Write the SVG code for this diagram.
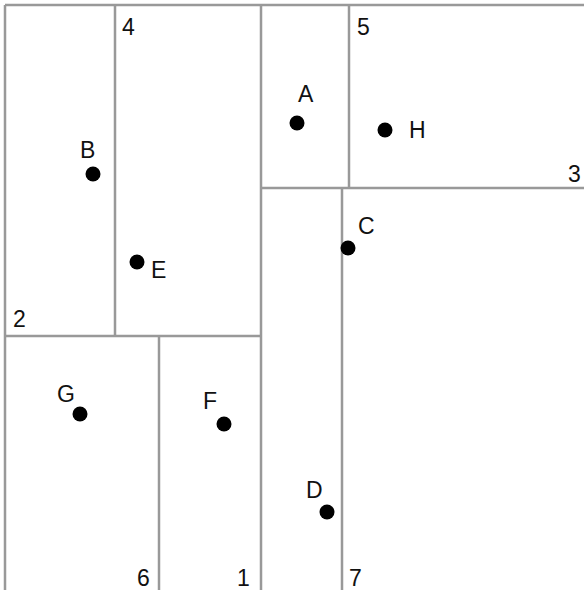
<svg xmlns="http://www.w3.org/2000/svg" width="584" height="590" viewBox="0 0 584 590">
<style>
.ln{stroke:#999;stroke-width:2.5;fill:none}
.pt{fill:#000}
.t{font-family:"Liberation Sans",Arial,sans-serif;font-size:23px;fill:#111}
</style>
<rect width="584" height="590" fill="#fff"/>
<g id="connectors">
<line class="ln" x1="5" y1="5" x2="584" y2="5"/>
<line class="ln" x1="5" y1="5" x2="5" y2="590"/>
<line class="ln" x1="261" y1="5" x2="261" y2="590"/>
<line class="ln" x1="115" y1="5" x2="115" y2="336"/>
<line class="ln" x1="5" y1="336" x2="261" y2="336"/>
<line class="ln" x1="159" y1="336" x2="159" y2="590"/>
<line class="ln" x1="261" y1="188" x2="584" y2="188"/>
<line class="ln" x1="349" y1="5" x2="349" y2="188"/>
<line class="ln" x1="342" y1="188" x2="342" y2="590"/>
</g>
<g id="labels">
<text class="t" x="122" y="35">4</text>
<text class="t" x="357" y="35">5</text>
<text class="t" x="568" y="182">3</text>
<text class="t" x="13" y="327">2</text>
<text class="t" x="137" y="586">6</text>
<text class="t" x="237" y="586">1</text>
<text class="t" x="349" y="586">7</text>
</g>
<g id="A"><circle class="pt" cx="297" cy="123" r="7.5"/><text class="t" x="298" y="102">A</text></g>
<g id="H"><circle class="pt" cx="385" cy="130" r="7.5"/><text class="t" x="409" y="138">H</text></g>
<g id="B"><circle class="pt" cx="93" cy="174" r="7.5"/><text class="t" x="80" y="158">B</text></g>
<g id="E"><circle class="pt" cx="137" cy="262" r="7.5"/><text class="t" x="151" y="278">E</text></g>
<g id="C"><circle class="pt" cx="348" cy="248" r="7.5"/><text class="t" x="358" y="234">C</text></g>
<g id="G"><circle class="pt" cx="80" cy="414" r="7.5"/><text class="t" x="57" y="402">G</text></g>
<g id="F"><circle class="pt" cx="224" cy="424" r="7.5"/><text class="t" x="203" y="409">F</text></g>
<g id="D"><circle class="pt" cx="327" cy="512" r="7.5"/><text class="t" x="306" y="498">D</text></g>
</svg>
